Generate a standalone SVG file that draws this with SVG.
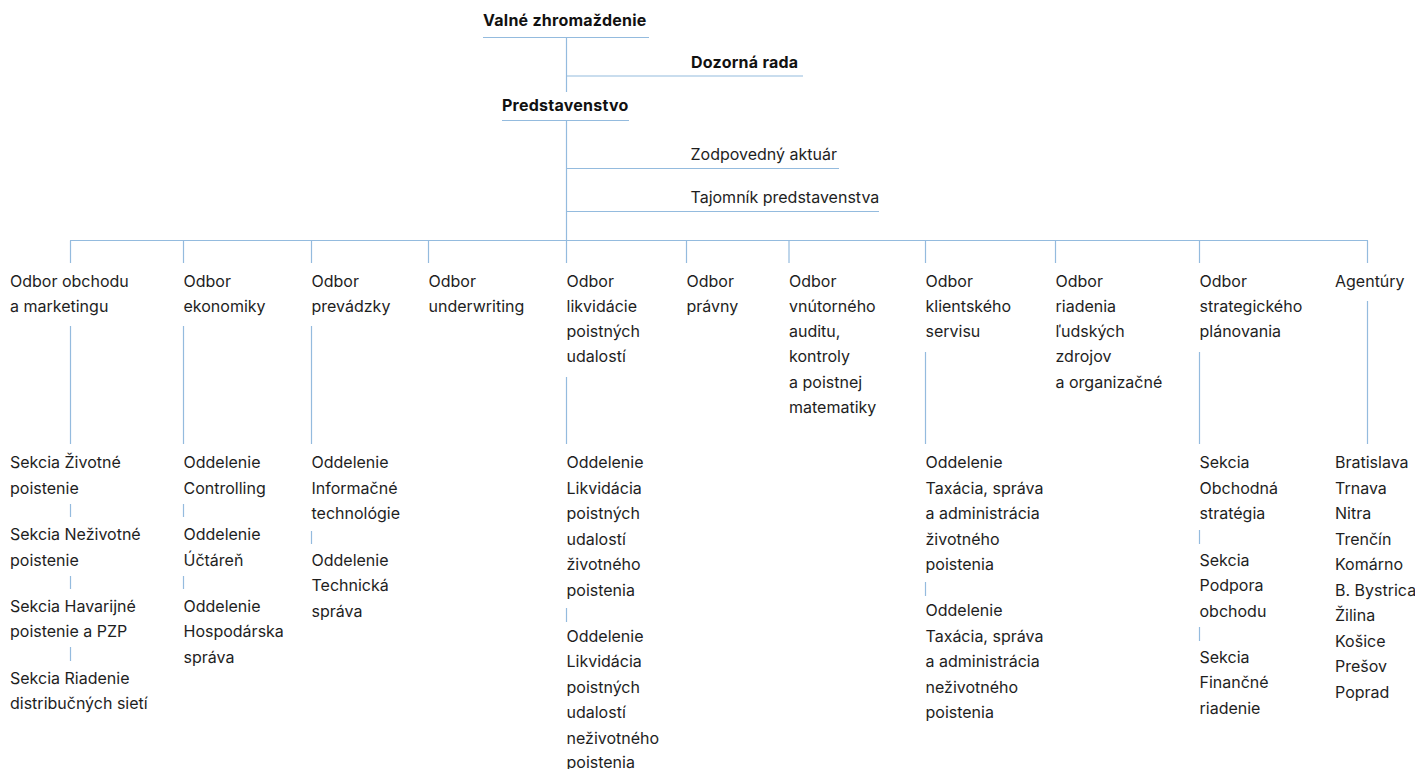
<svg xmlns="http://www.w3.org/2000/svg" width="1415" height="769" viewBox="0 0 1415 769">
<style>
text{font-family:Inter,"Noto Sans","DejaVu Sans",sans-serif;font-size:16px;fill:#1e1e1e}
.b{font-weight:700;font-size:16px;letter-spacing:0.25px;fill:#111}
.c line{stroke:#94bbde;stroke-width:1.2}
</style>
<rect width="1415" height="769" fill="#fff"/>
<g class="c" id="connectors">
<line x1="483" y1="37.5" x2="649" y2="37.5"/>
<line x1="566.5" y1="37.5" x2="566.5" y2="92"/>
<line x1="566.5" y1="76" x2="803" y2="76"/>
<line x1="502" y1="120.5" x2="629" y2="120.5"/>
<line x1="566.5" y1="120.5" x2="566.5" y2="240.5"/>
<line x1="566.5" y1="168.5" x2="839" y2="168.5"/>
<line x1="566.5" y1="211.5" x2="879" y2="211.5"/>
<line x1="70" y1="240.5" x2="1368" y2="240.5"/>
<line x1="70.5" y1="240.5" x2="70.5" y2="263"/>
<line x1="183.5" y1="240.5" x2="183.5" y2="263"/>
<line x1="311.5" y1="240.5" x2="311.5" y2="263"/>
<line x1="428.5" y1="240.5" x2="428.5" y2="263"/>
<line x1="566.5" y1="240.5" x2="566.5" y2="263"/>
<line x1="686.5" y1="240.5" x2="686.5" y2="263"/>
<line x1="789" y1="240.5" x2="789" y2="263"/>
<line x1="925.5" y1="240.5" x2="925.5" y2="263"/>
<line x1="1055.5" y1="240.5" x2="1055.5" y2="263"/>
<line x1="1199.5" y1="240.5" x2="1199.5" y2="263"/>
<line x1="1367.5" y1="240.5" x2="1367.5" y2="263"/>
<line x1="70.5" y1="326" x2="70.5" y2="444"/>
<line x1="183.5" y1="326" x2="183.5" y2="444"/>
<line x1="311.5" y1="326" x2="311.5" y2="444"/>
<line x1="566.5" y1="377" x2="566.5" y2="444"/>
<line x1="925.5" y1="352" x2="925.5" y2="444"/>
<line x1="1199.5" y1="352" x2="1199.5" y2="444"/>
<line x1="1367.5" y1="301" x2="1367.5" y2="444"/>
<line x1="70.5" y1="504" x2="70.5" y2="517"/>
<line x1="70.5" y1="576" x2="70.5" y2="589"/>
<line x1="70.5" y1="647" x2="70.5" y2="661"/>
<line x1="183.5" y1="504" x2="183.5" y2="517"/>
<line x1="183.5" y1="576" x2="183.5" y2="589"/>
<line x1="311.5" y1="531" x2="311.5" y2="544"/>
<line x1="566.5" y1="608" x2="566.5" y2="622"/>
<line x1="925.5" y1="582" x2="925.5" y2="596"/>
<line x1="1199.5" y1="530" x2="1199.5" y2="544"/>
<line x1="1199.5" y1="627" x2="1199.5" y2="641"/>
</g>
<g id="valne"><text class="b" x="483" y="26">Valné zhromaždenie</text></g>
<g id="dozorna"><text class="b" x="691" y="67.5">Dozorná rada</text></g>
<g id="predstavenstvo"><text class="b" x="502" y="111">Predstavenstvo</text></g>
<g id="aktuar"><text x="690.5" y="159.5">Zodpovedný aktuár</text></g>
<g id="tajomnik"><text x="690.5" y="202.5">Tajomník predstavenstva</text></g>
<g id="odbor-obchodu"><text x="10" y="286.5">Odbor obchodu</text><text x="10" y="311.8">a marketingu</text></g>
<g id="odbor-ekonomiky"><text x="183.5" y="286.5">Odbor</text><text x="183.5" y="311.8">ekonomiky</text></g>
<g id="odbor-prevadzky"><text x="311.5" y="286.5">Odbor</text><text x="311.5" y="311.8">prevádzky</text></g>
<g id="odbor-underwriting"><text x="428.5" y="286.5">Odbor</text><text x="428.5" y="311.8">underwriting</text></g>
<g id="odbor-likvidacie"><text x="566.5" y="286.5">Odbor</text><text x="566.5" y="311.8">likvidácie</text><text x="566.5" y="337.1">poistných</text><text x="566.5" y="362.4">udalostí</text></g>
<g id="odbor-pravny"><text x="686.5" y="286.5">Odbor</text><text x="686.5" y="311.8">právny</text></g>
<g id="odbor-auditu"><text x="789" y="286.5">Odbor</text><text x="789" y="311.8">vnútorného</text><text x="789" y="337.1">auditu,</text><text x="789" y="362.4">kontroly</text><text x="789" y="387.7">a poistnej</text><text x="789" y="413">matematiky</text></g>
<g id="odbor-klientskeho"><text x="925.5" y="286.5">Odbor</text><text x="925.5" y="311.8">klientského</text><text x="925.5" y="337.1">servisu</text></g>
<g id="odbor-riadenia"><text x="1055.5" y="286.5">Odbor</text><text x="1055.5" y="311.8">riadenia</text><text x="1055.5" y="337.1">ľudských</text><text x="1055.5" y="362.4">zdrojov</text><text x="1055.5" y="387.7">a organizačné</text></g>
<g id="odbor-strategickeho"><text x="1199.5" y="286.5">Odbor</text><text x="1199.5" y="311.8">strategického</text><text x="1199.5" y="337.1">plánovania</text></g>
<g id="agentury"><text x="1335" y="286.5">Agentúry</text></g>
<g id="sekcia-zivotne"><text x="10" y="468">Sekcia Životné</text><text x="10" y="493.5">poistenie</text></g>
<g id="sekcia-nezivotne"><text x="10" y="540">Sekcia Neživotné</text><text x="10" y="565.5">poistenie</text></g>
<g id="sekcia-havarijne"><text x="10" y="611.5">Sekcia Havarijné</text><text x="10" y="637">poistenie a PZP</text></g>
<g id="sekcia-riadenie"><text x="10" y="683.5">Sekcia Riadenie</text><text x="10" y="709">distribučných sietí</text></g>
<g id="odd-controlling"><text x="183.5" y="468">Oddelenie</text><text x="183.5" y="493.5">Controlling</text></g>
<g id="odd-uctaren"><text x="183.5" y="540">Oddelenie</text><text x="183.5" y="565.5">Účtáreň</text></g>
<g id="odd-hospodarska"><text x="183.5" y="611.5">Oddelenie</text><text x="183.5" y="637">Hospodárska</text><text x="183.5" y="662.5">správa</text></g>
<g id="odd-it"><text x="311.5" y="468">Oddelenie</text><text x="311.5" y="493.5">Informačné</text><text x="311.5" y="519">technológie</text></g>
<g id="odd-technicka"><text x="311.5" y="565.5">Oddelenie</text><text x="311.5" y="591">Technická</text><text x="311.5" y="616.5">správa</text></g>
<g id="odd-likv-zivot"><text x="566.5" y="468">Oddelenie</text><text x="566.5" y="493.5">Likvidácia</text><text x="566.5" y="519">poistných</text><text x="566.5" y="544.5">udalostí</text><text x="566.5" y="570">životného</text><text x="566.5" y="595.5">poistenia</text></g>
<g id="odd-likv-nezivot"><text x="566.5" y="641.5">Oddelenie</text><text x="566.5" y="667">Likvidácia</text><text x="566.5" y="692.5">poistných</text><text x="566.5" y="718">udalostí</text><text x="566.5" y="743.5">neživotného</text><text x="566.5" y="768">poistenia</text></g>
<g id="odd-tax-zivot"><text x="925.5" y="468">Oddelenie</text><text x="925.5" y="493.5">Taxácia, správa</text><text x="925.5" y="519">a administrácia</text><text x="925.5" y="544.5">životného</text><text x="925.5" y="570">poistenia</text></g>
<g id="odd-tax-nezivot"><text x="925.5" y="616">Oddelenie</text><text x="925.5" y="641.5">Taxácia, správa</text><text x="925.5" y="667">a administrácia</text><text x="925.5" y="692.5">neživotného</text><text x="925.5" y="718">poistenia</text></g>
<g id="sekcia-obchodna"><text x="1199.5" y="468">Sekcia</text><text x="1199.5" y="493.5">Obchodná</text><text x="1199.5" y="519">stratégia</text></g>
<g id="sekcia-podpora"><text x="1199.5" y="565.5">Sekcia</text><text x="1199.5" y="591">Podpora</text><text x="1199.5" y="616.5">obchodu</text></g>
<g id="sekcia-financne"><text x="1199.5" y="662.5">Sekcia</text><text x="1199.5" y="688">Finančné</text><text x="1199.5" y="713.5">riadenie</text></g>
<g id="agentury-list"><text x="1335" y="468">Bratislava</text><text x="1335" y="493.5">Trnava</text><text x="1335" y="519">Nitra</text><text x="1335" y="544.5">Trenčín</text><text x="1335" y="570">Komárno</text><text x="1335" y="595.5">B. Bystrica</text><text x="1335" y="621">Žilina</text><text x="1335" y="646.5">Košice</text><text x="1335" y="672">Prešov</text><text x="1335" y="697.5">Poprad</text></g>
</svg>
